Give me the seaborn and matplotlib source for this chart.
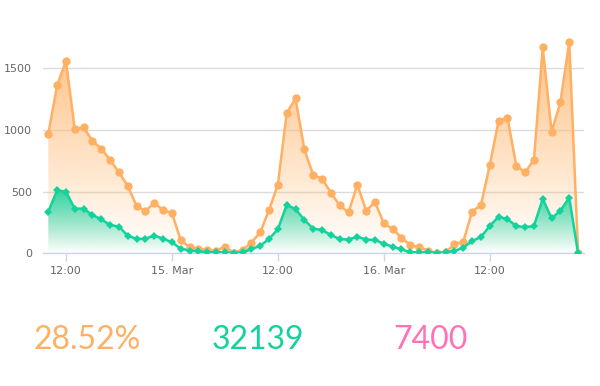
import numpy as np
import pandas as pd
import matplotlib
matplotlib.use("Agg")
import matplotlib.pyplot as plt
from matplotlib.colors import LinearSegmentedColormap, to_rgb
import seaborn as sns

# hourly values from 10:00 on 14 Mar to 22:00 on 16 Mar
orange_vals = [968, 1362, 1559, 1005, 1022, 911, 849, 757, 657, 546,
               384, 343, 408, 351, 327, 105, 51, 38, 27, 22,
               54, 5, 27, 86, 170, 351, 557, 1135, 1257, 843,
               635, 605, 492, 389, 332, 557, 346, 416, 243, 197,
               127, 65, 49, 22, 3, 8, 73, 95, 338, 392,
               716, 1076, 1100, 711, 657, 757, 1670, 984, 1227, 1716, 0]
green_vals = [338, 511, 500, 362, 362, 311, 276, 230, 216, 143,
              116, 119, 143, 119, 89, 38, 22, 16, 8, 8,
              8, 3, 8, 32, 62, 116, 195, 392, 359, 270,
              200, 189, 149, 116, 111, 135, 111, 108, 78, 54,
              32, 8, 8, 8, 3, 8, 19, 46, 100, 132,
              222, 297, 276, 222, 211, 222, 441, 284, 346, 451, 0]
tick_hours = [2, 14, 26, 38, 50]
tick_labels = ["12:00", "15. Mar", "12:00", "16. Mar", "12:00"]
y_ticks = [0, 500, 1000, 1500]
stat_texts = ["28.52%", "32139", "7400"]

ORANGE = "#FFB062"
GREEN = "#14D29C"
PINK = "#FF72B6"

hours = np.arange(len(orange_vals))
df = pd.DataFrame({"hour": hours, "orange": orange_vals, "green": green_vals})

sns.set_theme(style="white")
plt.rcParams['font.family'] = ['DejaVu Sans']

fig = plt.figure(figsize=(6.0, 3.86), dpi=100)
ax = fig.add_axes([43 / 600, 1 - 253.3 / 386, (584 - 43) / 600, 233.3 / 386])

XMIN, XMAX = -0.6, 60.67
YMIN, YMAX = 0, 1892


def gradient_fill(x, y, color, top_alpha, zorder):
    poly = ax.fill_between(x, 0, y, facecolor="none", edgecolor="none", zorder=zorder)
    r, g, b = to_rgb(color)
    cmap = LinearSegmentedColormap.from_list(
        "g", [(r, g, b, 0.0), (r, g, b, top_alpha)])
    grad = np.linspace(0, 1, 256).reshape(-1, 1)
    ymax = max(y)
    im = ax.imshow(grad, cmap=cmap, aspect="auto", origin="lower",
                   extent=[min(x), max(x), 0, ymax], zorder=zorder,
                   interpolation="bilinear")
    path = poly.get_paths()[0]
    im.set_clip_path(path, transform=ax.transData)


gradient_fill(df["hour"].values, df["orange"].values, ORANGE, 0.8, 1)
gradient_fill(df["hour"].values, df["green"].values, GREEN, 0.9, 3)

sns.lineplot(data=df, x="hour", y="orange", ax=ax, color=ORANGE, lw=1.8,
             marker="o", markersize=6, markeredgewidth=0, zorder=2)
sns.lineplot(data=df, x="hour", y="green", ax=ax, color=GREEN, lw=1.8,
             marker="D", markersize=4.5, markeredgewidth=0, zorder=4)

ax.set_xlim(XMIN, XMAX)
ax.set_ylim(YMIN, YMAX)
ax.set_xlabel("")
ax.set_ylabel("")

for sp in ["top", "right", "left"]:
    ax.spines[sp].set_visible(False)
ax.spines["bottom"].set_color("#ccd6eb")
ax.spines["bottom"].set_linewidth(1)

ax.set_yticks(y_ticks)
ax.set_yticklabels([str(v) for v in y_ticks])
ax.set_xticks(tick_hours)
ax.set_xticklabels(tick_labels)
ax.tick_params(axis="y", length=0, pad=8, labelsize=8, labelcolor="#666666")
ax.tick_params(axis="x", length=6, width=1, color="#ccd6eb", pad=3,
               labelsize=8, labelcolor="#666666", direction="out", bottom=True)
ax.grid(axis="y", color="#dcdcdc", lw=1)
ax.grid(axis="x", visible=False)
ax.set_axisbelow(True)
ax.patch.set_alpha(0)

for txt, col, cx in zip(stat_texts, [ORANGE, GREEN, PINK], [87, 258, 430]):
    fig.text(cx / 600, 1 - 340 / 386, txt, color=col, fontsize=23,
             ha="center", va="center", family=["Lato", "DejaVu Sans"],
             fontweight="normal")

fig.savefig("out.png", dpi=100, facecolor="white")
